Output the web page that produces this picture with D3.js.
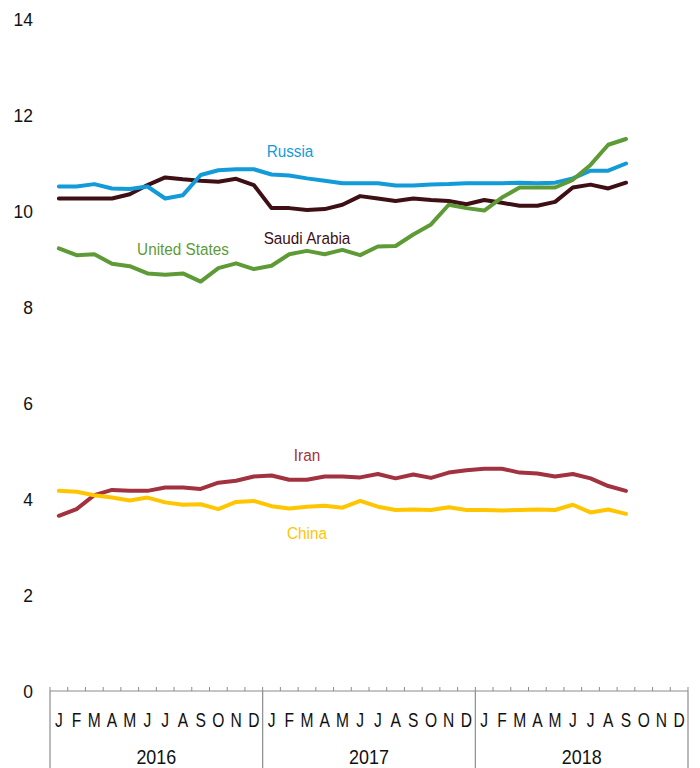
<!DOCTYPE html>
<html>
<head>
<meta charset="utf-8">
<script src="https://cdn.jsdelivr.net/npm/d3@7"></script>
<style>
  body { margin: 0; background: #fff; }
  text { font-family: "Liberation Sans", Arial, sans-serif; }
</style>
</head>
<body>
<svg id="chart"></svg>
<script>
var width = 700,
    height = 768;

// data (monthly, Jan 2016 - Sep 2018)
var years = ["2016", "2017", "2018"];
var months = ["J", "F", "M", "A", "M", "J", "J", "A", "S", "O", "N", "D"];
var yTicks = [0, 2, 4, 6, 8, 10, 12, 14];

var russia = [10.51, 10.51, 10.56, 10.47, 10.46, 10.51, 10.26, 10.33, 10.75, 10.85, 10.87, 10.87,
              10.76, 10.74, 10.68, 10.63, 10.58, 10.58, 10.58, 10.53, 10.53, 10.55, 10.56, 10.58,
              10.58, 10.58, 10.59, 10.58, 10.59, 10.68, 10.84, 10.84, 10.99];
var saudiArabia = [10.26, 10.26, 10.26, 10.26, 10.35, 10.54, 10.70, 10.66, 10.63, 10.61, 10.67, 10.54,
                   10.06, 10.06, 10.02, 10.04, 10.13, 10.31, 10.26, 10.21, 10.26, 10.23, 10.21, 10.14,
                   10.23, 10.17, 10.11, 10.11, 10.19, 10.49, 10.55, 10.47, 10.59];
var unitedStates = [9.22, 9.08, 9.10, 8.90, 8.85, 8.70, 8.67, 8.70, 8.53, 8.81, 8.91, 8.79,
                    8.86, 9.10, 9.17, 9.10, 9.19, 9.08, 9.26, 9.27, 9.51, 9.72, 10.13, 10.06,
                    10.01, 10.28, 10.49, 10.49, 10.49, 10.65, 10.96, 11.38, 11.50];
var iran = [3.65, 3.79, 4.08, 4.19, 4.17, 4.17, 4.24, 4.24, 4.21, 4.34, 4.38, 4.47,
            4.49, 4.40, 4.40, 4.47, 4.47, 4.45, 4.52, 4.43, 4.51, 4.44, 4.55, 4.60,
            4.63, 4.63, 4.55, 4.53, 4.47, 4.52, 4.43, 4.27, 4.17];
var china = [4.17, 4.15, 4.08, 4.03, 3.97, 4.03, 3.93, 3.88, 3.89, 3.79, 3.94, 3.96,
             3.85, 3.80, 3.84, 3.86, 3.82, 3.96, 3.84, 3.77, 3.78, 3.77, 3.83, 3.77,
             3.77, 3.76, 3.77, 3.78, 3.77, 3.88, 3.72, 3.78, 3.69];

var series = [
  {name: "Saudi Arabia", values: saudiArabia, color: "#3e1016", lx: 307, ly: 238},
  {name: "Russia", values: russia, color: "#129bd8", lx: 290, ly: 151},
  {name: "United States", values: unitedStates, color: "#5e9b36", lx: 183, ly: 249},
  {name: "Iran", values: iran, color: "#a2323f", lx: 307, ly: 455},
  {name: "China", values: china, color: "#ffc600", lx: 307, ly: 533}
];

// scales
var x = d3.scaleLinear()
    .domain([0, 36])
    .range([50, 688]);

var y = d3.scaleLinear()
    .domain([0, 14])
    .range([691, 19]);

var svg = d3.select("#chart")
    .attr("width", width)
    .attr("height", height);

// y labels
svg.append("g")
  .selectAll("text")
  .data(yTicks)
  .enter().append("text")
    .attr("transform", d => `translate(33, ${y(d)}) scale(0.92, 1)`)
    .attr("dy", "0.36em")
    .attr("text-anchor", "end")
    .attr("font-size", 19)
    .attr("fill", "#111")
    .text(d => d);

// x axis
var axis = svg.append("g").attr("class", "x axis");

axis.append("line")
    .attr("x1", x(0)).attr("x2", x(36))
    .attr("y1", y(0)).attr("y2", y(0))
    .attr("stroke", "#8c8c8c")
    .attr("stroke-width", 1.2);

axis.selectAll(".tick")
    .data(d3.range(37))
  .enter().append("line")
    .attr("class", "tick")
    .attr("x1", d => x(d)).attr("x2", d => x(d))
    .attr("y1", y(0)).attr("y2", y(0) - 4)
    .attr("stroke", "#8c8c8c");

axis.selectAll(".divider")
    .data(d3.range(4))
  .enter().append("line")
    .attr("class", "divider")
    .attr("x1", d => x(d * 12)).attr("x2", d => x(d * 12))
    .attr("y1", y(0)).attr("y2", height)
    .attr("stroke", "#8c8c8c")
    .attr("stroke-width", 1.2);

var monthData = d3.range(36).map(i => ({i: i, label: months[i % 12]}));

axis.selectAll(".month")
    .data(monthData)
  .enter().append("text")
    .attr("class", "month")
    .attr("transform", d => `translate(${x(d.i + 0.5)}, 727) scale(0.8, 1)`)
    .attr("text-anchor", "middle")
    .attr("font-size", 19.5)
    .attr("fill", "#111")
    .text(d => d.label);

axis.selectAll(".year")
    .data(years)
  .enter().append("text")
    .attr("class", "year")
    .attr("transform", (d, i) => `translate(${x(i * 12 + 6)}, 764) scale(0.92, 1)`)
    .attr("text-anchor", "middle")
    .attr("font-size", 19.5)
    .attr("fill", "#111")
    .text(d => d);

// lines
var line = d3.line()
    .x((d, i) => x(i + 0.5))
    .y(d => y(d));

svg.append("g")
  .selectAll("path")
  .data(series)
  .enter().append("path")
    .attr("fill", "none")
    .attr("stroke", d => d.color)
    .attr("stroke-width", 4)
    .attr("stroke-linejoin", "round")
    .attr("stroke-linecap", "round")
    .attr("d", d => line(d.values));

// labels
svg.append("g")
  .selectAll("text")
  .data(series)
  .enter().append("text")
    .attr("transform", d => `translate(${d.lx}, ${d.ly}) scale(0.9, 1)`)
    .attr("dy", "0.36em")
    .attr("text-anchor", "middle")
    .attr("font-size", 17)
    .attr("fill", d => d.color)
    .text(d => d.name);
</script>
</body>
</html>
